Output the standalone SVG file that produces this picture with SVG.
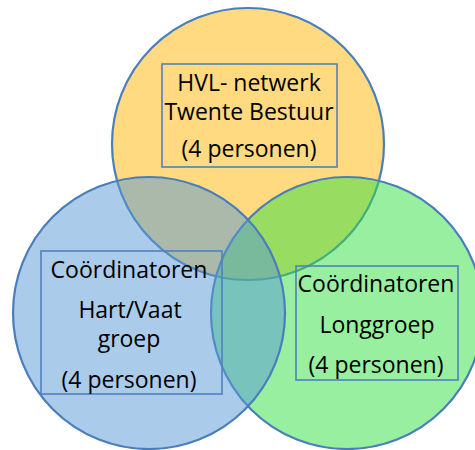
<svg xmlns="http://www.w3.org/2000/svg" width="475" height="450" viewBox="0 0 475 450">
<style>
.c{stroke:#4A7EBB;stroke-width:2.2}
.b{fill:none;stroke:#4F81BD;stroke-width:1.6}
text{font-family:"Open Sans","Liberation Sans",sans-serif;font-size:23px;fill:#000;text-anchor:middle}
</style>
<rect width="475" height="450" fill="#fff"/>
<g id="hvl-netwerk">
<circle class="c" cx="248" cy="144" r="136" fill="#FFDA80"/>
</g>
<g id="longgroep">
<circle class="c" cx="347" cy="313" r="136" fill="#31DF41" fill-opacity="0.5"/>
</g>
<g id="hart-vaat">
<circle class="c" cx="149" cy="313" r="136" fill="#5797D5" fill-opacity="0.5"/>
</g>
<g id="label-hvl">
<rect class="b" x="162" y="64" width="175" height="103"/>
<text x="249" y="91">HVL- netwerk</text>
<text x="249" y="120">Twente Bestuur</text>
<text x="249" y="157">(4 personen)</text>
</g>
<g id="label-hart-vaat">
<rect class="b" x="41" y="251" width="181" height="143"/>
<text x="129" y="278">Coördinatoren</text>
<text x="130" y="318">Hart/Vaat</text>
<text x="129" y="347">groep</text>
<text x="129" y="388">(4 personen)</text>
</g>
<g id="label-longgroep">
<rect class="b" x="296" y="266" width="162" height="114"/>
<text x="376" y="292">Coördinatoren</text>
<text x="377" y="333">Longgroep</text>
<text x="376" y="373">(4 personen)</text>
</g>
</svg>
